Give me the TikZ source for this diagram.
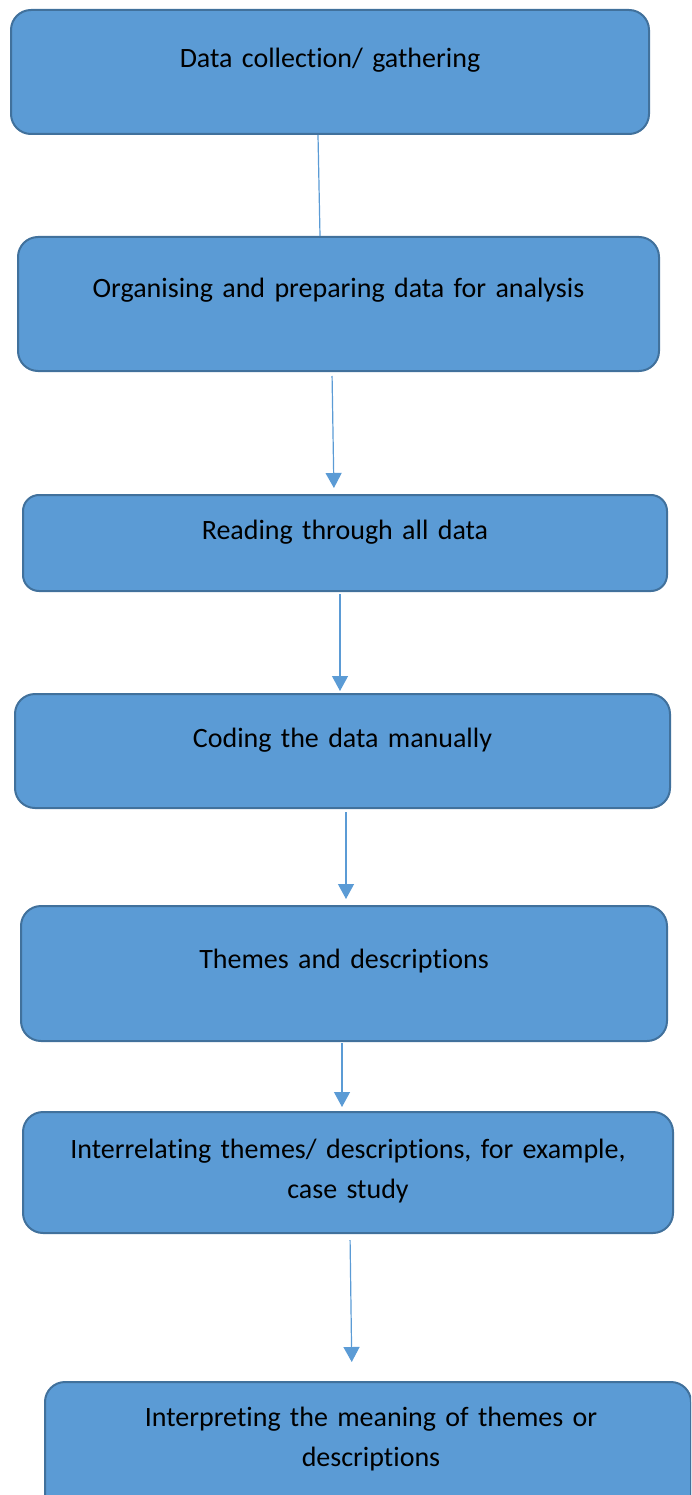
\documentclass[tikz,border=0pt]{standalone}
\usepackage{fontspec}
\setmainfont{Carlito}[Ligatures=NoCommon]
\usetikzlibrary{positioning,arrows.meta}

\definecolor{stagefill}{HTML}{5B9BD5}
\definecolor{stageedge}{HTML}{41719C}

\begin{document}
\begin{tikzpicture}[
        x=1pt, y=-1pt,
        stage/.style={draw=stageedge, fill=stagefill, line width=2pt, rounded corners=20pt,
          inner sep=0pt, anchor=north, align=center, font=\fontsize{28}{40}\selectfont},
        link/.style={draw=stagefill, line width=1.2pt},
        flow/.style={link, -{Triangle[width=16pt,length=15pt]}}
      ]

      \useasboundingbox (0,0) rectangle (691,1495);
      \clip (0,0) rectangle (691,1495);

      \node (DC) at (330,9) [stage, text width=638pt, text height=58pt, text depth=66pt] {Data collection/ gathering};
      \node (OP) at (338.5,236) [stage, text width=641pt, text height=61pt, text depth=73pt] {Organising and preparing data for analysis};
      \node (RD) at (345,494) [stage, rounded corners=16pt, text width=644pt, text height=44pt, text depth=52pt] {Reading through all data};
      \node (CD) at (342.5,693) [stage, text width=655pt, text height=53pt, text depth=61pt] {Coding the data manually};
      \node (TD) at (344,905) [stage, text width=646pt, text height=62pt, text depth=73pt] {Themes and descriptions};
      \node (IR) at (348,1111) [stage, text width=650pt, text height=46pt, text depth=75pt] {Interrelating themes/ descriptions, for example,\\ case study};
      \node (IM) at (368,1381) [stage, text width=646pt, text height=44pt, text depth=90pt] {\hspace*{6pt}Interpreting the meaning of themes or\\ \hspace*{6pt}descriptions};

      \draw[link] ([xshift=-12pt]DC.south) -- ([xshift=-18.5pt]OP.north);
      \draw[flow, shorten <=4pt, shorten >=6pt] ([xshift=-6.5pt]OP.south) -- ([xshift=-11pt]RD.north);
      \draw[flow, shorten <=2pt, shorten >=2pt] ([xshift=-5pt]RD.south) -- ([xshift=-2.5pt]CD.north);
      \draw[flow, shorten <=3pt, shorten >=6pt] ([xshift=3.5pt]CD.south) -- ([xshift=2pt]TD.north);
      \draw[flow, shorten <=1pt, shorten >=4pt] ([xshift=-2pt]TD.south) -- ([xshift=-6pt]IR.north);
      \draw[flow, shorten <=6pt, shorten >=19pt] ([xshift=2pt]IR.south) -- ([xshift=-16pt]IM.north);
    \end{tikzpicture}
\end{document}
